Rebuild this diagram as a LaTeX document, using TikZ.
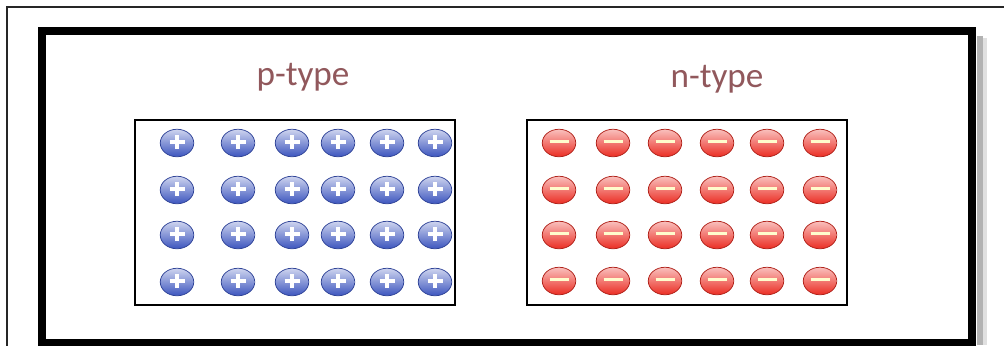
\documentclass[tikz,border=0pt]{standalone}
\usepackage{fontspec}
\setmainfont{Carlito}
\usetikzlibrary{shapes.geometric}

\definecolor{pblue}{RGB}{60,85,190}
\definecolor{nred}{RGB}{235,45,35}
\definecolor{labelbrown}{RGB}{145,88,92}

\begin{document}
\begin{tikzpicture}[
  x=0.2mm, y=-0.2mm,
  frame/.style={draw, line width=1.6mm},
  dopebox/.style={draw, line width=0.55mm, minimum width=64mm, minimum height=37mm, inner sep=0pt},
  typelabel/.style={text=labelbrown, font=\fontsize{20}{24}\selectfont},
  ion/.style={ellipse, minimum width=6.7mm, minimum height=5.5mm, inner sep=0pt},
  pion/.style={ion, top color=pblue!25!white, middle color=pblue!70!white, bottom color=pblue,
    draw=pblue!80!black, line width=0.15mm,
    path picture={
      \draw[white, line width=0.75mm]
        ([xshift=-1.5mm, yshift=0.2mm]path picture bounding box.center) --
        ([xshift=1.5mm, yshift=0.2mm]path picture bounding box.center);
      \draw[white, line width=0.75mm]
        ([yshift=-1.2mm]path picture bounding box.center) --
        ([yshift=1.6mm]path picture bounding box.center);
    }},
  nion/.style={ion, top color=nred!30!white, middle color=nred!75!white, bottom color=nred,
    draw=nred!75!black, line width=0.15mm,
    path picture={
      \draw[yellow!20!white, line width=0.75mm]
        ([xshift=-1.9mm, yshift=0.3mm]path picture bounding box.center) --
        ([xshift=1.9mm, yshift=0.3mm]path picture bounding box.center);
    }},
]
\useasboundingbox (0,0) rectangle (1004,345);
\fill[white] (0,0) rectangle (1004,345);

% outer thin border and the thick frame with its shadow
\draw[line width=0.3mm, black!85] (7,7) rectangle (1100,420);
\draw[line width=1.2mm, black!30] (980,36) -- (980,345);
\draw[line width=0.8mm, black!12] (985,38) -- (985,345);
\node[frame, minimum width=186mm, minimum height=62.4mm, inner sep=0pt] (frame) at (507,187) {};

% labels
\node[typelabel] (plabel) at (303,77) {p-type};
\node[typelabel] (nlabel) at (717,79) {n-type};

% boxes
\node[dopebox] (pbox) at (295,212.5) {};
\node[dopebox] (nbox) at (687,212.5) {};

% acceptor side
\foreach \y [count=\r] in {143,190,235,282}
  \foreach \x [count=\c] in {177,238,292,338,387,435}
    \node[pion] (p-\r-\c) at (\x,\y) {};

% donor side
\foreach \y [count=\r] in {143,190,235,281}
  \foreach \x [count=\c] in {559,613,665,717,767,820}
    \node[nion] (n-\r-\c) at (\x,\y) {};
\end{tikzpicture}
\end{document}
